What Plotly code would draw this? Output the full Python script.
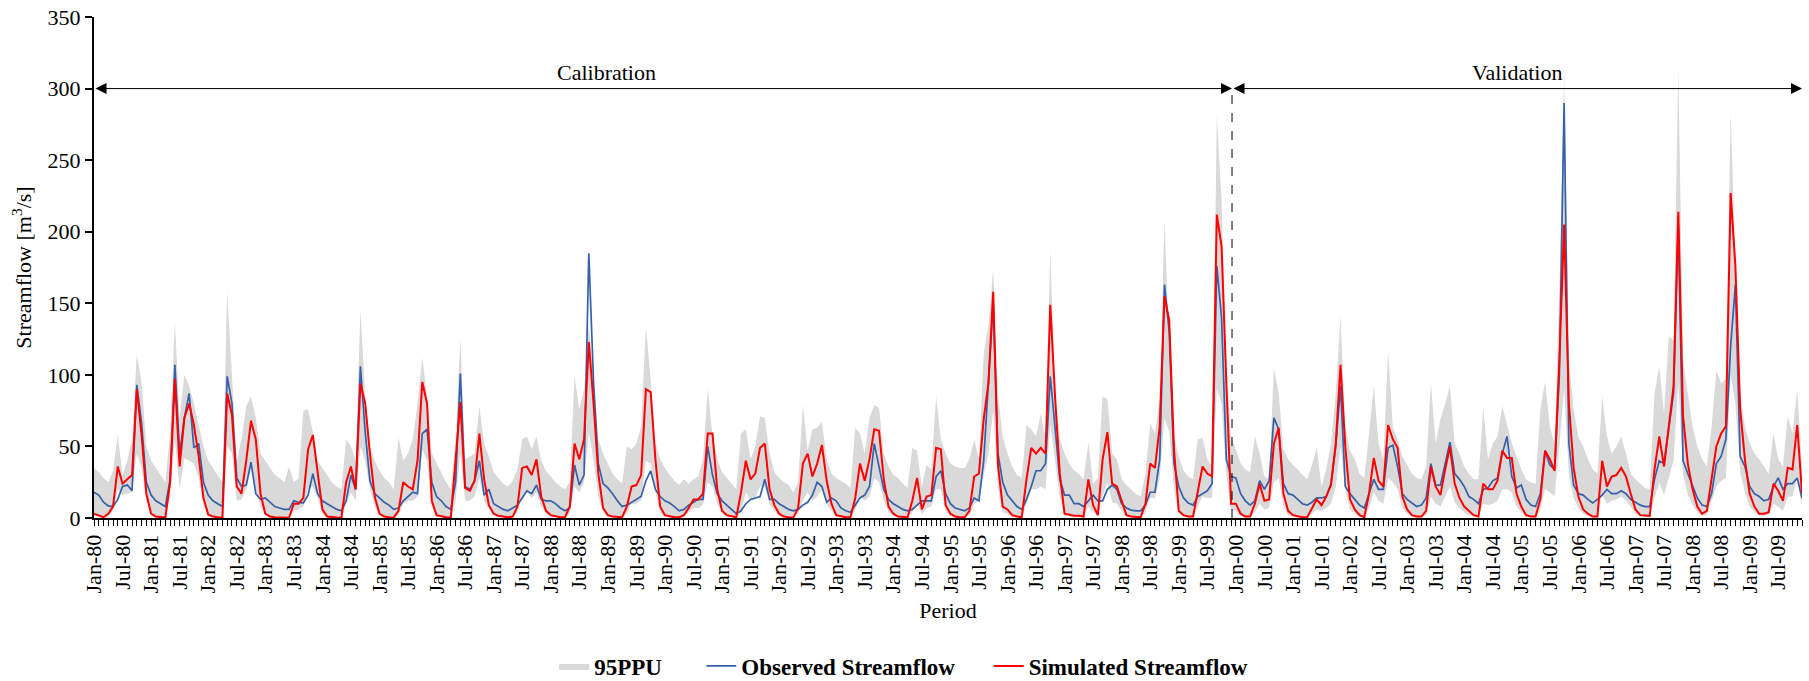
import plotly.graph_objects as go

# Monthly streamflow, Jan-1980 .. Dec-2009 (12 values per row = one year)
OBSERVED = [
    18, 16, 11, 8.5, 8, 13, 22, 23, 19, 93, 66, 25,
    16, 12, 10, 8, 27, 107, 45, 70, 87, 49, 52, 25,
    16, 12, 10, 8, 99, 80, 28, 22, 23, 39, 17, 13,
    14, 11, 8, 7, 6, 6, 12, 11, 10.5, 16, 31, 17,
    12, 10, 8, 6, 5, 12, 30, 20, 106, 60, 26, 17,
    14, 11, 9, 6, 7, 12, 15, 18, 17, 59, 62, 25,
    15, 12, 8, 6, 25, 101, 22, 20, 26, 40, 16, 20,
    10, 8, 6, 5, 7, 9, 14, 19, 17, 23, 13, 12,
    12, 10, 7, 5, 7, 37, 23, 30, 185, 95, 38, 24,
    21, 17, 12, 8, 9, 11, 13, 15, 26, 33, 20, 15,
    12, 10.5, 8, 5, 6, 9, 11, 13, 13, 50, 30, 17,
    12, 9, 6, 3, 5, 10, 13, 14, 15, 27, 13, 13,
    10, 8, 6, 5, 6, 9, 11, 16, 25, 22, 11, 14,
    12, 7, 5, 4, 9, 14, 16, 22, 52, 37, 20, 13,
    10, 8, 6, 5, 6, 9, 12, 12, 12, 29, 33, 17,
    10, 7, 6, 5, 7, 14, 12, 40, 95, 150, 45, 25,
    16, 12, 8, 6, 13, 22, 33, 33, 38, 99, 65, 27,
    16, 16, 10, 10, 8, 12, 16, 12, 12, 20, 23, 20,
    10, 7, 5.5, 5, 5, 9, 18, 18, 41, 163, 130, 38,
    22, 14, 10.5, 9, 15, 17, 19, 24, 176, 140, 41, 29,
    28, 17, 12, 9, 12, 26, 20, 26, 70, 62, 24, 17,
    16, 13, 10, 9, 11, 14, 14, 15, 24, 50, 92, 22,
    17, 13, 9, 7, 17, 27, 20, 20, 49, 51, 36, 17,
    13, 10.5, 8, 9, 14, 38, 23, 23, 38, 53, 31, 27,
    22, 15, 13, 10, 20, 21, 26, 28, 45, 57, 29, 21,
    23, 13, 9, 8, 17, 47, 37, 34, 100, 290, 52, 23,
    17, 16, 13, 10.5, 13, 16, 20, 17, 17, 19, 17, 13,
    11, 9, 8, 8, 27, 40, 38, 62, 87, 205, 40, 31,
    22, 14, 9, 8, 17, 38, 43, 55, 120, 163, 43, 36,
    22, 17, 15, 12, 13, 22, 28, 20, 24, 24, 28, 14,
]

SIMULATED = [
    3, 1.5, 0.5, 3, 8, 36, 24, 27, 30, 90, 58, 17,
    3, 1, 0.5, 0.3, 25, 97, 36, 70, 80, 65, 43, 14,
    2.5, 1, 0.5, 0.3, 87, 72, 22, 17, 40, 68, 55, 17,
    3, 1, 0.5, 0.3, 0.2, 0.2, 10, 10, 14, 48, 58, 30,
    6, 1, 0.5, 0.3, 0.2, 25, 36, 20, 94, 80, 45, 15,
    3, 1, 0.5, 0.3, 5, 25, 22, 20, 40, 95, 80, 12,
    2, 1, 0.5, 0.3, 40, 81, 21, 19, 26, 59, 27, 9,
    3, 1.5, 1, 0.5, 1, 8, 35, 36, 30, 41, 15, 5,
    2, 1, 0.5, 0.5, 8, 52, 41, 55, 123, 80, 31, 7,
    2, 1, 0.5, 0.5, 8, 22, 23, 30, 90, 88, 41, 8,
    2, 1, 0.5, 0.5, 2, 7, 13, 13, 17, 59, 59, 20,
    5, 2, 1, 0.5, 18, 40, 27, 31, 49, 52, 20, 9,
    3, 1, 0.5, 0.3, 7, 38, 45, 29, 38, 51, 26, 10,
    2, 1, 0.5, 0.5, 14, 38, 26, 41, 62, 61, 27, 8,
    3, 1, 0.5, 0.5, 12, 28, 6, 15, 16, 49, 48, 9,
    3, 1, 0.5, 0.5, 5, 29, 31, 69, 94, 158, 37, 8,
    6, 2, 1, 0.5, 27, 49, 45, 49, 45, 149, 85, 31,
    3, 2, 1.5, 1.5, 1, 27, 9, 2, 41, 60, 24, 22,
    12, 2, 1, 0.5, 0.5, 10, 38, 35, 64, 155, 138, 48,
    5, 2, 1, 1, 20, 36, 31, 29, 212, 190, 95, 10,
    10, 3, 1, 1, 10, 24, 12, 13, 52, 63, 17, 5,
    2, 1, 0.5, 0.5, 7, 13, 9, 15, 23, 52, 107, 50,
    13, 6, 2, 0.5, 17, 42, 26, 22, 65, 55, 49, 15,
    6, 2, 1, 1, 5, 36, 22, 16, 34, 50, 24, 14,
    8, 5, 2, 1, 24, 20, 20, 26, 47, 42, 42, 17,
    8, 2, 1, 1, 13, 47, 41, 33, 110, 205, 80, 35,
    15, 6, 3, 1, 1, 40, 22, 29, 30, 35, 29, 17,
    6, 2, 1.5, 1.5, 34, 57, 36, 64, 92, 214, 71, 38,
    20, 8, 3, 5, 29, 50, 59, 64, 227, 176, 76, 41,
    17, 8, 3, 3, 4, 24, 19, 12, 35, 34, 65, 17,
]

PPU95_UPPER = [
    35, 32, 28, 25, 33, 58, 30, 40, 55, 114, 95, 50,
    40, 35, 30, 25, 60, 137, 70, 100, 92, 80, 65, 50,
    40, 35, 30, 25, 158, 100, 40, 55, 78, 85, 70, 45,
    40, 35, 30, 28, 25, 36, 25, 28, 75, 76, 60, 40,
    35, 30, 25, 22, 20, 55, 50, 40, 146, 85, 50, 40,
    33, 28, 25, 20, 56, 40, 45, 55, 80, 112, 85, 45,
    38, 31, 25, 20, 55, 126, 41, 43, 45, 78, 52, 43,
    32, 28, 24, 22, 26, 34, 55, 57, 48, 57, 40, 33,
    29, 25, 22, 20, 25, 99, 76, 90, 135, 95, 55, 45,
    38, 31, 27, 24, 50, 48, 52, 64, 134, 97, 52, 41,
    35, 30, 26, 23, 27, 24, 27, 29, 41, 91, 57, 41,
    32, 28, 24, 20, 59, 62, 41, 50, 71, 70, 45, 32,
    28, 25, 23, 18, 25, 79, 47, 62, 63, 67, 41, 31,
    28, 26, 24, 21, 63, 59, 45, 70, 79, 77, 45, 36,
    30, 28, 24, 21, 49, 47, 22, 37, 34, 85, 55, 45,
    38, 36, 35, 35, 41, 55, 41, 115, 134, 174, 87, 57,
    45, 36, 30, 28, 65, 62, 57, 73, 55, 187, 87, 55,
    45, 38, 33, 31, 27, 53, 24, 28, 85, 83, 45, 41,
    27, 23, 20, 17, 15, 31, 66, 59, 83, 208, 122, 57,
    43, 33, 29, 27, 55, 56, 41, 36, 281, 222, 99, 57,
    48, 38, 34, 32, 57, 45, 29, 27, 105, 87, 48, 41,
    37, 34, 30, 27, 37, 49, 22, 34, 52, 87, 141, 64,
    47, 41, 31, 28, 59, 92, 52, 41, 117, 63, 55, 43,
    37, 31, 28, 27, 36, 94, 52, 69, 80, 92, 52, 45,
    36, 31, 27, 27, 77, 41, 52, 57, 78, 64, 52, 43,
    34, 27, 25, 24, 76, 95, 64, 52, 160, 310, 110, 76,
    57, 50, 41, 34, 31, 85, 57, 45, 50, 57, 45, 31,
    27, 24, 21, 20, 87, 106, 73, 127, 124, 314, 110, 87,
    64, 50, 41, 36, 64, 103, 94, 97, 283, 180, 87, 64,
    52, 45, 41, 36, 31, 59, 41, 36, 71, 59, 90, 36,
]

PPU95_LOWER = [
    2, 1, 0.3, 1, 5, 20, 16, 17, 18, 45, 35, 12,
    2, 0.5, 0.3, 0.2, 15, 55, 20, 42, 40, 38, 28, 10,
    2, 0.5, 0.3, 0.2, 50, 45, 12, 13, 20, 35, 20, 8,
    2, 0.5, 0.3, 0.2, 0.1, 0.1, 5, 6, 8, 20, 22, 14,
    3, 0.5, 0.3, 0.2, 0.1, 10, 18, 12, 50, 40, 20, 8,
    2, 0.5, 0.3, 0.2, 2, 10, 12, 12, 15, 48, 40, 8,
    1, 0.5, 0.3, 0.2, 12, 45, 12, 12, 15, 28, 12, 6,
    2, 0.8, 0.5, 0.3, 0.5, 4, 15, 18, 14, 18, 8, 3,
    1, 0.5, 0.3, 0.3, 3, 22, 18, 25, 60, 40, 15, 4,
    1, 0.5, 0.3, 0.3, 3, 10, 10, 12, 40, 38, 18, 4,
    1, 0.5, 0.3, 0.3, 1, 4, 7, 7, 9, 25, 22, 10,
    3, 1, 0.5, 0.3, 4, 18, 12, 14, 22, 22, 9, 5,
    1.5, 0.5, 0.3, 0.2, 3, 12, 18, 12, 15, 20, 10, 5,
    1, 0.5, 0.3, 0.3, 5, 15, 12, 15, 28, 25, 12, 4,
    1.5, 0.5, 0.3, 0.3, 4, 10, 3, 7, 8, 20, 20, 5,
    1.5, 0.5, 0.3, 0.3, 2, 10, 12, 30, 45, 75, 20, 4,
    3, 1, 0.5, 0.3, 10, 20, 20, 22, 20, 65, 40, 14,
    1.5, 1, 0.8, 0.8, 0.5, 8, 4, 1, 15, 25, 11, 10,
    5, 1, 0.5, 0.3, 0.3, 4, 14, 14, 28, 70, 60, 20,
    3, 1, 0.5, 0.5, 8, 15, 14, 14, 90, 80, 30, 5,
    5, 1.5, 0.5, 0.5, 4, 10, 6, 7, 25, 28, 8, 2,
    1, 0.5, 0.3, 0.3, 3, 6, 5, 7, 10, 22, 50, 20,
    6, 3, 1, 0.3, 7, 18, 12, 10, 28, 25, 20, 7,
    3, 1, 0.5, 0.5, 2, 15, 10, 8, 15, 22, 11, 7,
    4, 2, 1, 0.5, 10, 9, 10, 12, 20, 20, 18, 8,
    4, 1, 0.5, 0.5, 6, 20, 18, 15, 50, 90, 30, 14,
    7, 3, 1.5, 0.5, 0.5, 16, 10, 12, 13, 15, 12, 8,
    3, 1, 0.8, 0.8, 14, 25, 16, 28, 40, 95, 30, 16,
    9, 4, 1.5, 2, 12, 22, 26, 28, 100, 80, 32, 18,
    8, 4, 1.5, 1.5, 2, 10, 8, 5, 15, 15, 28, 8,
]

TICK_LABELS = [
    "Jan-80", "Jul-80", "Jan-81", "Jul-81", "Jan-82", "Jul-82", "Jan-83", "Jul-83",
    "Jan-84", "Jul-84", "Jan-85", "Jul-85", "Jan-86", "Jul-86", "Jan-87", "Jul-87",
    "Jan-88", "Jul-88", "Jan-89", "Jul-89", "Jan-90", "Jul-90", "Jan-91", "Jul-91",
    "Jan-92", "Jul-92", "Jan-93", "Jul-93", "Jan-94", "Jul-94", "Jan-95", "Jul-95",
    "Jan-96", "Jul-96", "Jan-97", "Jul-97", "Jan-98", "Jul-98", "Jan-99", "Jul-99",
    "Jan-00", "Jul-00", "Jan-01", "Jul-01", "Jan-02", "Jul-02", "Jan-03", "Jul-03",
    "Jan-04", "Jul-04", "Jan-05", "Jul-05", "Jan-06", "Jul-06", "Jan-07", "Jul-07",
    "Jan-08", "Jul-08", "Jan-09", "Jul-09",
]

PERIOD_BOUNDARY = 239.2   # month index where calibration ends / validation starts
PERIOD_ARROW_Y = 300
PERIOD_LABEL_Y = 311.5
CALIBRATION_LABEL_X = 107.8
VALIDATION_LABEL_X = 299.2

N = len(OBSERVED)
months = list(range(N))
tick_positions = list(range(0, N, 6))

FONT = "Liberation Serif, Times New Roman, Times, serif"
NBSP = "\u00a0"

fig = go.Figure()
fig.add_trace(go.Scatter(x=months, y=PPU95_LOWER, mode="lines",
                         line=dict(width=0, color="#D9D9D9"),
                         showlegend=False, hoverinfo="skip"))
fig.add_trace(go.Scatter(x=months, y=PPU95_UPPER, mode="lines", fill="tonexty",
                         fillcolor="#D9D9D9", line=dict(width=0, color="#D9D9D9"),
                         name="95PPU" + NBSP * 6))
fig.add_trace(go.Scatter(x=months, y=OBSERVED, mode="lines",
                         line=dict(color="#3660A8", width=1.7),
                         name="Observed Streamflow" + NBSP * 5))
fig.add_trace(go.Scatter(x=months, y=SIMULATED, mode="lines",
                         line=dict(color="#FF0000", width=2),
                         name="Simulated Streamflow"))

# period arrows
fig.add_annotation(x=PERIOD_BOUNDARY, y=PERIOD_ARROW_Y, ax=0, ay=PERIOD_ARROW_Y,
                   xref="x", yref="y", axref="x", ayref="y", text="",
                   showarrow=True, arrowside="end+start", arrowhead=2, startarrowhead=2,
                   arrowsize=2.2, startarrowsize=2.2, arrowwidth=1, arrowcolor="black",
                   standoff=0, startstandoff=0)
fig.add_annotation(x=N - 1, y=PERIOD_ARROW_Y, ax=PERIOD_BOUNDARY, ay=PERIOD_ARROW_Y,
                   xref="x", yref="y", axref="x", ayref="y", text="",
                   showarrow=True, arrowside="end+start", arrowhead=2, startarrowhead=2,
                   arrowsize=2.2, startarrowsize=2.2, arrowwidth=1, arrowcolor="black",
                   standoff=0, startstandoff=0)
fig.add_annotation(x=CALIBRATION_LABEL_X, y=PERIOD_LABEL_Y, xref="x", yref="y",
                   text="Calibration", showarrow=False,
                   font=dict(family=FONT, size=22, color="black"))
fig.add_annotation(x=VALIDATION_LABEL_X, y=PERIOD_LABEL_Y, xref="x", yref="y",
                   text="Validation", showarrow=False,
                   font=dict(family=FONT, size=22, color="black"))
fig.add_shape(type="line", xref="x", yref="y",
              x0=PERIOD_BOUNDARY, x1=PERIOD_BOUNDARY, y0=0, y1=PERIOD_ARROW_Y,
              line=dict(color="black", width=1, dash="dash"))

fig.update_layout(
    width=1809, height=681,
    margin=dict(l=94, r=7, t=17, b=163, autoexpand=False),
    paper_bgcolor="white", plot_bgcolor="white",
    font=dict(family=FONT, size=22, color="black"),
    showlegend=True,
    legend=dict(orientation="h", x=0.2694, xanchor="left", y=-0.2954, yanchor="middle",
                font=dict(family=FONT, size=23, color="black", weight="bold"),
                bgcolor="rgba(0,0,0,0)", traceorder="normal"),
)
fig.update_xaxes(
    range=[0, N - 1], showgrid=False, zeroline=False,
    showline=True, linecolor="black", linewidth=2,
    tickmode="array", tickvals=tick_positions, ticktext=TICK_LABELS,
    tickangle=-90, ticks="outside", ticklen=6, tickwidth=1, tickcolor="black",
    tickfont=dict(family=FONT, size=22, color="black"),
    minor=dict(tickmode="linear", tick0=0, dtick=1, ticks="outside", ticklen=6,
               tickwidth=1, tickcolor="black", showgrid=False),
    title=dict(text="Period", font=dict(family=FONT, size=22, color="black"), standoff=10),
    automargin=False,
)
fig.update_yaxes(
    range=[0, 350], showgrid=False, zeroline=False,
    showline=True, linecolor="black", linewidth=2,
    tickmode="linear", tick0=0, dtick=50,
    ticks="outside", ticklen=7, tickwidth=1.5, tickcolor="black",
    tickfont=dict(family=FONT, size=22, color="black"),
    title=dict(text="Streamflow [m<sup>3</sup>/s]",
               font=dict(family=FONT, size=22, color="black"), standoff=10),
    automargin=False,
)

fig.write_html("out.html")
